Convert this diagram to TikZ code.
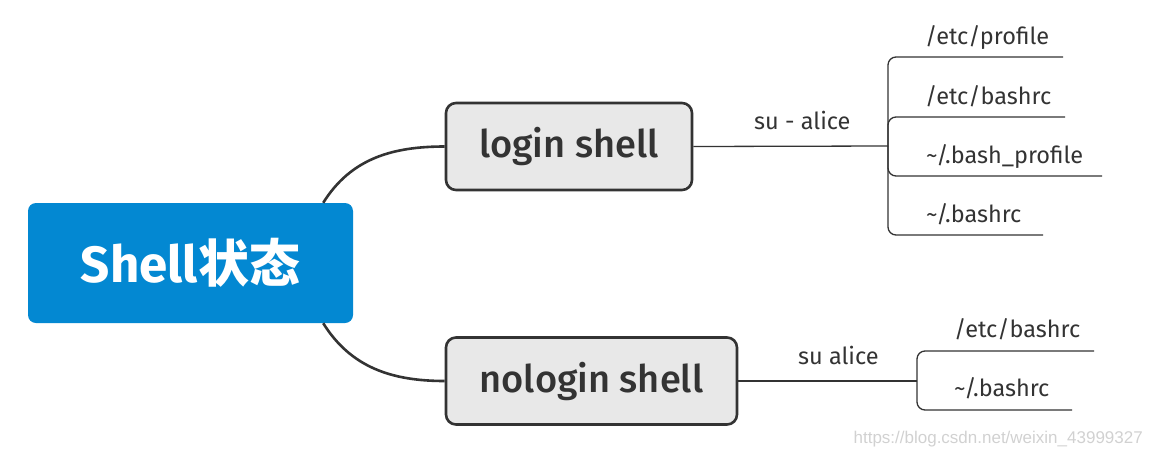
\documentclass[tikz,border=0pt]{standalone}
\usepackage{fontspec}
\setmainfont{Fira Sans}
\IfFontExistsTF{Fira Sans Medium}
    {\newfontfamily\medfont{Fira Sans Medium}}
    {\newfontfamily\medfont{Fira Sans}}
\newfontfamily\cjk{Noto Sans CJK SC}
\newfontfamily\markfont{Liberation Sans}
\usetikzlibrary{calc, positioning}
\definecolor{rootblue}{HTML}{0388D2}
\definecolor{topicgray}{HTML}{E8E8E8}
\definecolor{inkgray}{HTML}{333333}

\tikzset{
    rootbox/.style={fill=rootblue, rounded corners=8pt, minimum width=325pt, minimum height=120pt,
        text=white, font=\fontsize{51}{58}\selectfont\bfseries},
    topicbox/.style={fill=topicgray, draw=inkgray, line width=2.6pt, rounded corners=10pt,
        minimum height=87pt, text=inkgray, font=\medfont\fontsize{38}{44}\selectfont},
    branch/.style={draw=inkgray, line width=2.6pt},
    twig/.style={draw=inkgray, line width=1.3pt, rounded corners=8pt},
    leaf/.style={anchor=base west, inner sep=0pt, text=inkgray, font=\fontsize{23.5}{27}\selectfont},
    cmd/.style={anchor=base, inner sep=0pt, text=inkgray, font=\fontsize{23.5}{27}\selectfont}
}

\begin{document}
\begin{tikzpicture}[x=1pt, y=1pt]
        \useasboundingbox (0,0) rectangle (1152,-456);
        % main topics
        \node[rootbox] (state) at (190.5,-263) {Shell{\cjk 状态}};
        \node[topicbox, minimum width=246pt] (login) at (569,-146.5) {login shell};
        \node[topicbox, minimum width=291pt] (nologin) at (591.5,-381) {nologin shell};
        \draw[branch] ($(state.north east)+(-30,0)$) to[out=58, in=180] (login.west);
        \draw[branch] ($(state.south east)+(-30,0)$) to[out=-58, in=180] (nologin.west);

        % login shell files
        \coordinate (loginfork) at (888,-146);
        \draw[twig] (login.east) -- (loginfork)
            node[cmd, pos=0.56, above=16pt] (sudash) {su - alice};
        \node[leaf] (profile) at (925,-44) {/etc/profile};
        \node[leaf] (bashrc) at (925,-104) {/etc/bashrc};
        \node[leaf] (bashprofile) at (926,-163) {\textasciitilde/.bash\_profile};
        \node[leaf] (homebashrc) at (926,-222) {\textasciitilde/.bashrc};
        \coordinate (profileend) at (1063,-57);
        \coordinate (bashrcend) at (1065,-117);
        \coordinate (bashprofileend) at (1102,-176);
        \coordinate (homebashrcend) at (1043,-235);
        \foreach \e in {profileend, bashrcend, bashprofileend, homebashrcend}
            \draw[twig] (loginfork) |- (\e);

        % nologin shell files
        \coordinate (nologinfork) at (917,-381);
        \draw[twig] (nologin.east) -- (nologinfork)
            node[cmd, pos=0.56, above=16pt] (su) {su alice};
        \node[leaf] (nbashrc) at (954,-337) {/etc/bashrc};
        \node[leaf] (nhomebashrc) at (954,-396) {\textasciitilde/.bashrc};
        \coordinate (nbashrcend) at (1094,-351);
        \coordinate (nhomebashrcend) at (1072,-410);
        \foreach \e in {nbashrcend, nhomebashrcend}
            \draw[twig] (nologinfork) |- (\e);

        \node[anchor=base east, inner sep=0pt, text=black!18, font=\markfont\fontsize{17}{20}\selectfont]
            (mark) at (1143,-443) {https://blog.csdn.net/weixin\_43999327};
\end{tikzpicture}
\end{document}
